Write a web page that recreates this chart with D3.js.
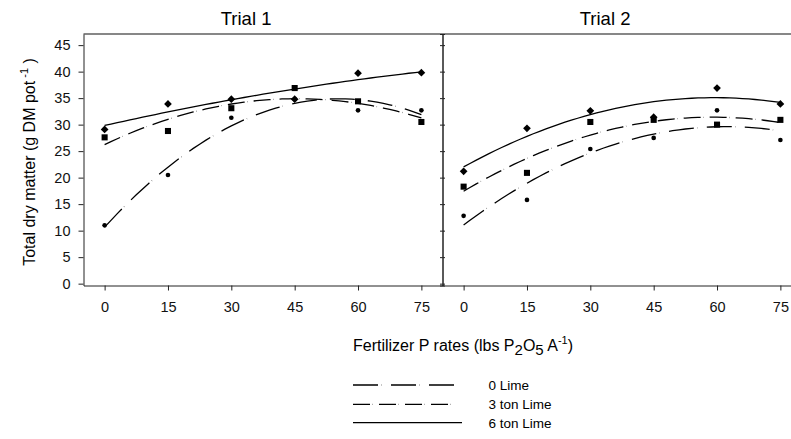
<!DOCTYPE html>
<html>
<head>
<meta charset="utf-8">
<style>
  body { margin: 0; background: #fff; font-family: "Liberation Sans", Arial, sans-serif; }
  .axis path, .axis line { stroke: #222; stroke-width: 1; }
  .axis text { font-family: "Liberation Sans", Arial, sans-serif; font-size: 14.5px; fill: #111; }
  .fit { fill: none; stroke: #000; stroke-width: 1.3; }
</style>
</head>
<body>
<script src="https://cdn.jsdelivr.net/npm/d3@7"></script>
<script>
// P rates (lbs P2O5 / A)
var rates = [0, 15, 30, 45, 60, 75];
var trialNames = ["Trial 1", "Trial 2"];
var limeNames = ["0 Lime", "3 ton Lime", "6 ton Lime"];
var yTicks = [0, 5, 10, 15, 20, 25, 30, 35, 40, 45];

// total dry matter, g DM / pot
var trial1Lime0 = [11.0, 20.5, 31.3, 34.8, 32.7, 32.7];
var trial1Lime3 = [27.6, 28.8, 33.1, 36.9, 34.4, 30.5];
var trial1Lime6 = [29.1, 33.9, 34.8, 34.8, 39.7, 39.8];
var trial2Lime0 = [12.8, 15.8, 25.4, 27.5, 32.7, 27.1];
var trial2Lime3 = [18.3, 20.9, 30.5, 30.9, 30.0, 30.9];
var trial2Lime6 = [21.2, 29.3, 32.6, 31.4, 36.9, 33.9];

var trialData = [
    [trial1Lime0, trial1Lime3, trial1Lime6],
    [trial2Lime0, trial2Lime3, trial2Lime6]
];

var dashes = ["25,3.2,0.3,9.5", "17,2.7,0.3,6", null];
var symbols = [
    {type: d3.symbolCircle, size: 17, rot: 0},
    {type: d3.symbolSquare, size: 37, rot: 0},
    {type: d3.symbolSquare, size: 30, rot: 45}
];

var width = 791, height = 439;
var plotTop = 34, plotBottom = 285.5;
var panels = [[83.5, 442.5], [442.5, 801.5]];

var svg = d3.select("body").append("svg")
    .attr("width", width)
    .attr("height", height);

var y = d3.scaleLinear().domain([-0.35, 47.1]).range([plotBottom, plotTop]);

// least squares quadratic y = a + b x + c x^2
function quadFit(xs, ys) {
    var s = [0, 0, 0, 0, 0], t = [0, 0, 0];
    xs.forEach(function(x, i) {
        for (var k = 0; k < 5; k++) s[k] += Math.pow(x, k);
        for (var k = 0; k < 3; k++) t[k] += Math.pow(x, k) * ys[i];
    });
    var m = [[s[0], s[1], s[2], t[0]],
             [s[1], s[2], s[3], t[1]],
             [s[2], s[3], s[4], t[2]]];
    for (var i = 0; i < 3; i++) {
        for (var j = i + 1; j < 3; j++) {
            var f = m[j][i] / m[i][i];
            for (var k = i; k < 4; k++) m[j][k] -= f * m[i][k];
        }
    }
    var c = [0, 0, 0];
    for (var i = 2; i >= 0; i--) {
        var v = m[i][3];
        for (var k = i + 1; k < 3; k++) v -= m[i][k] * c[k];
        c[i] = v / m[i][i];
    }
    return function(x) { return c[0] + c[1] * x + c[2] * x * x; };
}

// top border across both panels
svg.append("line")
    .attr("x1", panels[0][0]).attr("x2", width)
    .attr("y1", plotTop).attr("y2", plotTop)
    .attr("stroke", "#111").attr("stroke-width", 1.2);

trialData.forEach(function(series, p) {
    var x = d3.scaleLinear().domain([-5, 80]).range(panels[p]);

    var xAxis = d3.axisBottom(x).tickValues(rates).tickSizeInner(5).tickSizeOuter(0).tickPadding(11);
    svg.append("g").attr("class", "axis")
        .attr("transform", "translate(0," + plotBottom + ")")
        .call(xAxis);

    if (p === 0) {
        svg.append("g").attr("class", "axis")
            .attr("transform", "translate(" + panels[p][0] + ",0)")
            .call(d3.axisLeft(y).tickValues(yTicks).tickSizeInner(5).tickSizeOuter(0).tickPadding(8));
    } else {
        svg.append("g").attr("class", "axis")
            .attr("transform", "translate(" + panels[p][0] + ",0)")
            .call(d3.axisLeft(y).tickValues(yTicks).tickSize(2.5).tickFormat(""));
        svg.append("g").attr("class", "axis")
            .attr("transform", "translate(" + panels[p][0] + ",0)")
            .call(d3.axisRight(y).tickValues(yTicks).tickSize(2.5).tickFormat(""));
    }

    svg.append("text")
        .attr("x", x(33.5))
        .attr("y", 25)
        .attr("text-anchor", "middle")
        .attr("font-size", 18.5)
        .text(trialNames[p]);

    var line = d3.line()
        .x(function(d) { return x(d[0]); })
        .y(function(d) { return y(d[1]); });

    series.forEach(function(vals, s) {
        var fit = quadFit(rates, vals);
        var pts = d3.range(0, 75.01, 1.5).map(function(r) { return [r, fit(r)]; });
        svg.append("path")
            .attr("class", "fit")
            .attr("d", line(pts))
            .attr("stroke-dasharray", dashes[s]);
    });

    series.forEach(function(vals, s) {
        var sym = d3.symbol().type(symbols[s].type).size(symbols[s].size);
        svg.append("g").selectAll("path")
            .data(vals)
            .enter().append("path")
            .attr("d", sym)
            .attr("fill", "#000")
            .attr("transform", function(d, i) {
                return "translate(" + x(rates[i]) + "," + y(d) + ") rotate(" + symbols[s].rot + ")";
            });
    });
});

// y axis title
var yt = svg.append("text")
    .attr("transform", "translate(35,162) rotate(-90)")
    .attr("text-anchor", "middle")
    .attr("font-size", 16);
yt.append("tspan").text("Total dry matter (g DM pot");
yt.append("tspan").attr("font-size", 11).attr("dy", -7).text(" -1");
yt.append("tspan").attr("dy", 7).text(" )");

// x axis title
var xt = svg.append("text")
    .attr("x", 353)
    .attr("y", 351)
    .attr("font-size", 16);
xt.append("tspan").text("Fertilizer P rates (lbs P");
xt.append("tspan").attr("font-size", 15).attr("dy", 3.5).text("2");
xt.append("tspan").attr("dy", -3.5).text("O");
xt.append("tspan").attr("font-size", 15).attr("dy", 3.5).text("5");
xt.append("tspan").attr("dy", -3.5).text(" A");
xt.append("tspan").attr("font-size", 11).attr("dy", -7).text("-1");
xt.append("tspan").attr("dy", 7).text(")");

// legend
var legendY = [385, 404.3, 422.7];
var legendEnd = [454, 457, 462];
var legend = svg.append("g");
limeNames.forEach(function(name, s) {
    legend.append("line")
        .attr("x1", 353).attr("x2", legendEnd[s])
        .attr("y1", legendY[s]).attr("y2", legendY[s])
        .attr("stroke", "#000").attr("stroke-width", 1.3)
        .attr("stroke-dasharray", dashes[s]);
    legend.append("text")
        .attr("x", 488.5)
        .attr("y", legendY[s] + 5)
        .attr("font-size", 13.5)
        .text(name);
});
</script>
</body>
</html>
